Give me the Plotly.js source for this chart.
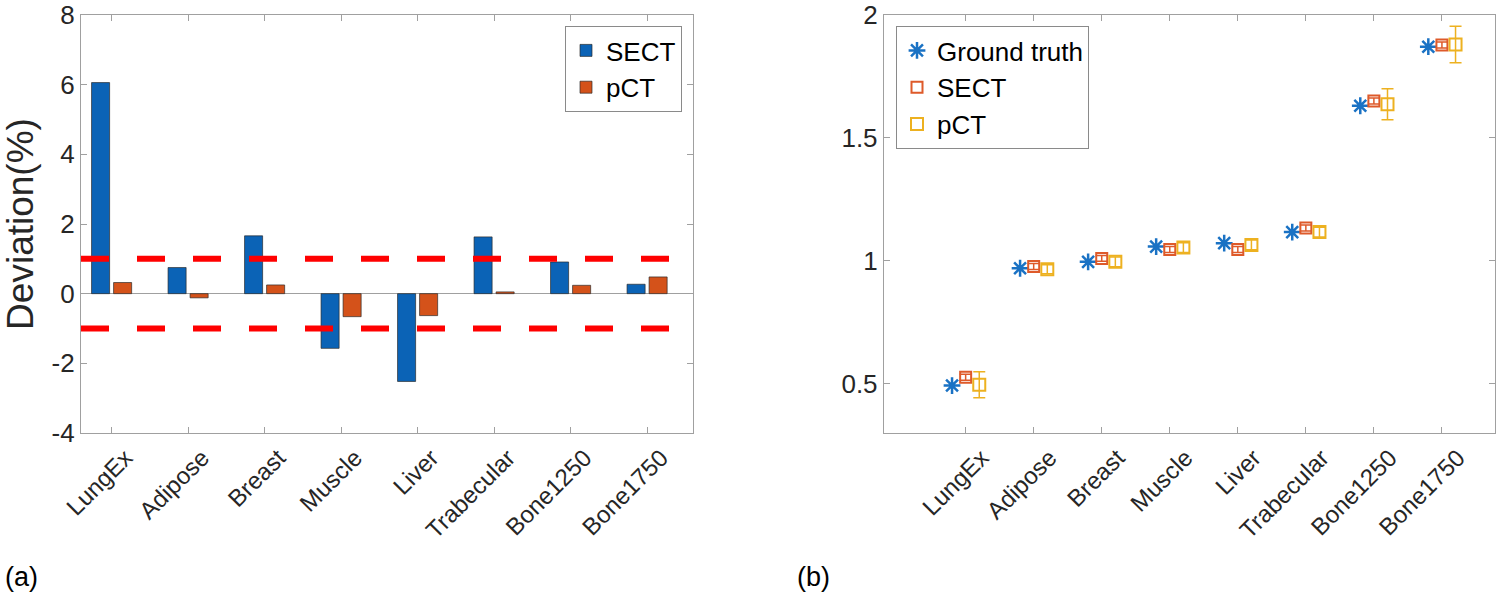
<!DOCTYPE html>
<html>
<head>
<meta charset="utf-8">
<script src="https://cdn.plot.ly/plotly-3.0.1.min.js"></script>
<style>
  html, body { margin: 0; padding: 0; background: #ffffff; }
  #chart { width: 1500px; height: 596px; }
</style>
</head>
<body>
<div id="chart"></div>
<script>
// ---- data ----
const categories = ['LungEx', 'Adipose', 'Breast', 'Muscle', 'Liver', 'Trabecular', 'Bone1250', 'Bone1750'];
// (a) deviation (%)
const sectDeviation = [6.06, 0.75, 1.66, -1.57, -2.52, 1.63, 0.91, 0.27];
const pctDeviation  = [0.32, -0.12, 0.25, -0.66, -0.63, 0.05, 0.24, 0.48];
const deviationLimits = [1, -1];
const devTickVals = [-4, -2, 0, 2, 4, 6, 8];
const devTickText = ['-4', '-2', '0', '2', '4', '6', '8'];
// (b) values
const groundTruth = [0.493, 0.970, 0.996, 1.058, 1.072, 1.117, 1.631, 1.871];
const sectValue   = [0.527, 0.977, 1.010, 1.046, 1.046, 1.134, 1.650, 1.878];
const sectError   = [0.012, 0.012, 0.012, 0.012, 0.012, 0.012, 0.012, 0.012];
const pctValue    = [0.496, 0.966, 0.996, 1.054, 1.065, 1.117, 1.637, 1.880];
const pctError    = [0.053, 0.018, 0.020, 0.020, 0.020, 0.020, 0.063, 0.074];
const valTickVals = [0.5, 1, 1.5, 2];
const valTickText = ['0.5', '1', '1.5', '2'];

// ---- styling ----
const FONT = 'Liberation Sans, Arial, Helvetica, sans-serif';
const AXIS_GREY = '#a0a0a0';
const TEXT = '#262626';
const BLUE = '#0B63B6';
const ORANGE = '#D4521A';
const STAR_BLUE = '#1A72C4';
const SECT_COL = '#DE5A2A';
const PCT_COL = '#EDB120';

const traces = [
  {
    type: 'bar', x: categories, y: sectDeviation, name: 'SECT',
    marker: { color: BLUE, line: { color: 'rgba(40,40,40,0.85)', width: 0.8 } },
    xaxis: 'x', yaxis: 'y', legend: 'legend'
  },
  {
    type: 'bar', x: categories, y: pctDeviation, name: 'pCT',
    marker: { color: ORANGE, line: { color: 'rgba(40,40,40,0.85)', width: 0.8 } },
    xaxis: 'x', yaxis: 'y', legend: 'legend'
  },
  {
    type: 'scatter', mode: 'markers', x: categories, y: groundTruth, name: 'Ground truth',
    marker: { symbol: 'asterisk-open', size: 14, color: STAR_BLUE, line: { color: STAR_BLUE, width: 2.5 } },
    xaxis: 'x2', yaxis: 'y2', legend: 'legend2'
  },
  {
    type: 'scatter', mode: 'markers', x: categories, y: sectValue, name: 'SECT',
    marker: { symbol: 'square-open', size: 11, color: SECT_COL, line: { color: SECT_COL, width: 2 } },
    error_y: { type: 'data', array: sectError, visible: true, color: SECT_COL, thickness: 1.5, width: 6 },
    xaxis: 'x2', yaxis: 'y2', legend: 'legend2'
  },
  {
    type: 'scatter', mode: 'markers', x: categories, y: pctValue, name: 'pCT',
    marker: { symbol: 'square-open', size: 12, color: PCT_COL, line: { color: PCT_COL, width: 2 } },
    error_y: { type: 'data', array: pctError, visible: true, color: PCT_COL, thickness: 1.5, width: 6 },
    xaxis: 'x2', yaxis: 'y2', legend: 'legend2'
  }
];

const baseAxis = {
  showline: true, linecolor: AXIS_GREY, linewidth: 1.2, mirror: 'ticks',
  ticks: 'inside', ticklen: 6, tickwidth: 1, tickcolor: AXIS_GREY,
  showgrid: false, zeroline: false, automargin: false,
  tickfont: { family: FONT, size: 26, color: TEXT }
};

const shapes = deviationLimits.map(v => ({
  type: 'line', xref: 'x domain', yref: 'y', x0: 0, x1: 1, y0: v, y1: v,
  line: { color: '#FF0000', width: 6, dash: '28px,28px' }, layer: 'above'
}));

const layout = {
  width: 1500, height: 596,
  margin: { l: 0, r: 0, t: 0, b: 0 },
  paper_bgcolor: '#ffffff', plot_bgcolor: '#ffffff',
  font: { family: FONT, color: TEXT },
  barmode: 'group', bargap: 0.424, bargroupgap: 0.18,
  scattermode: 'group', scattergap: 0.4,
  showlegend: true,
  xaxis: Object.assign({}, baseAxis, {
    domain: [81 / 1500, 693 / 1500], anchor: 'y',
    type: 'category', range: [-0.4, 7.6], tickangle: -45, ticklabelshift: 14,
    tickfont: { family: FONT, size: 24, color: TEXT }
  }),
  yaxis: Object.assign({}, baseAxis, {
    domain: [1 - 433 / 596, 1 - 15 / 596], anchor: 'x',
    range: [-4, 8], tickvals: devTickVals, ticktext: devTickText,
    zeroline: true, zerolinecolor: AXIS_GREY, zerolinewidth: 1.2,
    title: { text: 'Deviation(%)', font: { family: FONT, size: 37, color: TEXT }, standoff: 6 }
  }),
  xaxis2: Object.assign({}, baseAxis, {
    domain: [884 / 1500, 1495 / 1500], anchor: 'y2',
    type: 'category', range: [-1.2, 7.78], tickangle: -45, ticklabelshift: 16,
    tickfont: { family: FONT, size: 24, color: TEXT }
  }),
  yaxis2: Object.assign({}, baseAxis, {
    domain: [1 - 433 / 596, 1 - 15 / 596], anchor: 'x2',
    range: [0.3, 2], tickvals: valTickVals, ticktext: valTickText
  }),
  legend: {
    x: 682 / 1500, y: 1 - 26 / 596, xanchor: 'right', yanchor: 'top',
    bgcolor: '#ffffff', bordercolor: '#8a8a8a', borderwidth: 1,
    font: { family: FONT, size: 26, color: '#000000' }, tracegroupgap: 0
  },
  legend2: {
    x: 896 / 1500, y: 1 - 26 / 596, xanchor: 'left', yanchor: 'top',
    bgcolor: '#ffffff', bordercolor: '#8a8a8a', borderwidth: 1,
    font: { family: FONT, size: 26, color: '#000000' }, tracegroupgap: 0
  },
  shapes: shapes,
  annotations: [
    { xref: 'paper', yref: 'paper', x: 3 / 1500, y: 1 - 577 / 596, xanchor: 'left', yanchor: 'middle',
      text: '(a)', showarrow: false, font: { family: FONT, size: 27, color: '#000000' } },
    { xref: 'paper', yref: 'paper', x: 795 / 1500, y: 1 - 577 / 596, xanchor: 'left', yanchor: 'middle',
      text: '(b)', showarrow: false, font: { family: FONT, size: 27, color: '#000000' } }
  ]
};

Plotly.newPlot('chart', traces, layout, { staticPlot: true, displayModeBar: false });
</script>
</body>
</html>
